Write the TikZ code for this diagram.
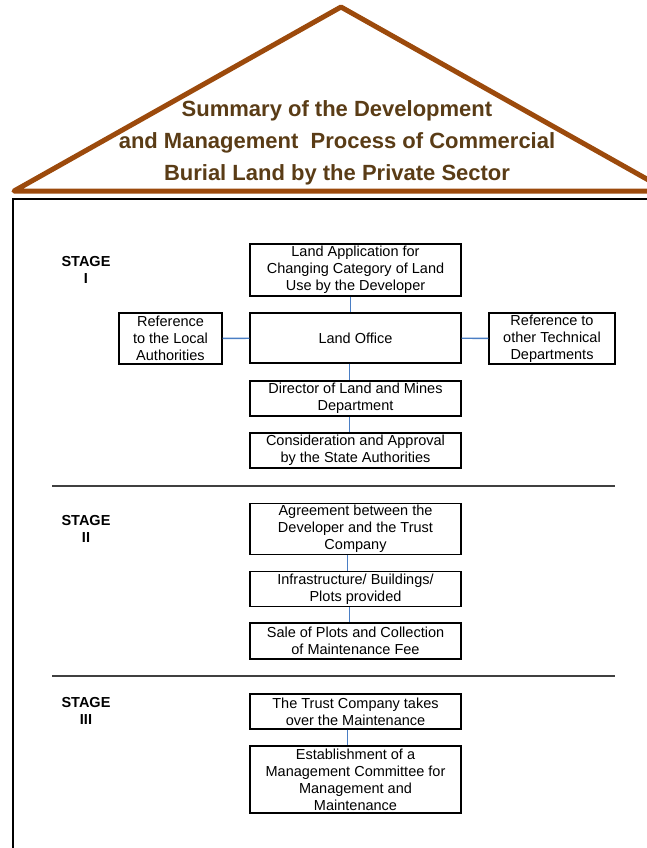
\documentclass[tikz,border=0pt]{standalone}
\usepackage{fontspec}
\setmainfont{Liberation Sans}
\definecolor{roofbrown}{HTML}{9C4A0C}
\definecolor{titlebrown}{HTML}{5A3C16}
\definecolor{linkblue}{HTML}{4A7EC4}
\definecolor{rulegray}{HTML}{404040}
\begin{document}
\begin{tikzpicture}[x=1pt,y=-1pt,
  box/.style={draw,line width=1.1pt,align=center,inner sep=0pt,minimum width=211pt,
    font=\fontsize{14.5}{17}\selectfont},
  link/.style={draw=linkblue,line width=1.4pt},
  stagelbl/.style={align=center,font=\fontsize{14.5}{17}\selectfont\bfseries}]
\useasboundingbox (0,0) rectangle (647,848);
\clip (0,0) rectangle (647,848);

% roof and title
\draw[roofbrown,line width=5pt,line join=round,line cap=round] (14,191)--(341,7)--(668,191)--cycle;
\node[align=center,text=titlebrown,font=\fontsize{22}{32}\selectfont\bfseries] (title) at (337,143)
  {Summary of the Development\\and Management~~Process of Commercial\\Burial Land by the Private Sector};

% frame
\draw[line width=2pt] (13,870)--(13,199)--(670,199);

% stage I
\node[stagelbl] (s1) at (86,270) {STAGE\\I};
\node[box,minimum height=52pt] (app) at (355.5,270) {Land Application for\\Changing Category of Land\\Use by the Developer};
\node[box,minimum height=50pt] (office) at (355.5,338) {Land Office};
\node[box,minimum width=103pt,minimum height=51pt] (local) at (170.5,338.5) {Reference\\to the Local\\Authorities};
\node[box,minimum width=126pt,minimum height=51pt] (tech) at (552,338.5) {Reference to\\other Technical\\Departments};
\node[box,minimum height=35pt] (director) at (355.5,398.5) {Director of Land and Mines\\Department};
\node[box,minimum height=35pt] (consider) at (355.5,450.5) {Consideration and Approval\\by the State Authorities};
\draw[link] ([xshift=-5pt]app.south)--([xshift=-5pt]office.north);
\draw[link] (local)--(office);
\draw[link] (office)--(tech);
\draw[link] ([xshift=-6pt]office.south)--([xshift=-6pt]director.north);
\draw[link] ([xshift=-6pt]director.south)--([xshift=-6pt]consider.north);

\draw[rulegray,line width=1.2pt] (52,486)--(615,486);

% stage II
\node[stagelbl] (s2) at (86,528.5) {STAGE\\II};
\node[box,minimum height=51pt] (agree) at (355.5,529) {Agreement between the\\Developer and the Trust\\Company};
\node[box,minimum height=35pt] (infra) at (355.5,589) {Infrastructure/ Buildings/\\Plots provided};
\node[box,minimum height=36pt] (sale) at (355.5,641) {Sale of Plots and Collection\\of Maintenance Fee};
\draw[link] ([xshift=-8pt]agree.south)--([xshift=-8pt]infra.north);
\draw[link] ([xshift=-6pt]infra.south)--([xshift=-6pt]sale.north);

\draw[rulegray,line width=1.2pt] (52,676)--(615,676);

% stage III
\node[stagelbl] (s3) at (86,710.5) {STAGE\\III};
\node[box,minimum height=35pt] (trust) at (355.5,711.5) {The Trust Company takes\\over the Maintenance};
\node[box,minimum height=67pt] (estab) at (355.5,779.5) {Establishment of a\\Management Committee for\\Management and\\Maintenance};
\draw[link] ([xshift=-8pt]trust.south)--([xshift=-8pt]estab.north);
\end{tikzpicture}
\end{document}
